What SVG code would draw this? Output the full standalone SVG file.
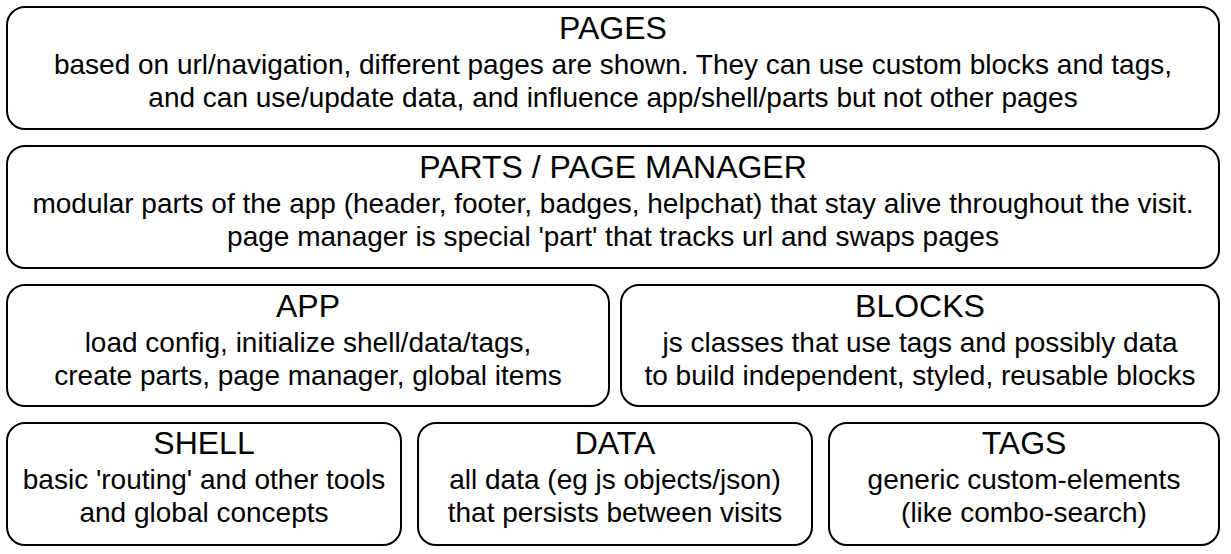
<svg xmlns="http://www.w3.org/2000/svg" width="1231" height="554" viewBox="0 0 1231 554">
  <style>
    .box { fill: #ffffff; stroke: #000000; stroke-width: 2; }
    .title { font-family: "Liberation Sans", Arial, sans-serif; font-size: 32px; fill: #000000; text-anchor: middle; }
    .body { font-family: "Liberation Sans", Arial, sans-serif; font-size: 28px; fill: #000000; text-anchor: middle; }
  </style>
  <rect width="1231" height="554" fill="#ffffff"/>

  <!-- top layer -->
  <g id="pages">
    <rect class="box" x="7" y="7" width="1212" height="122" rx="18" ry="18"/>
    <text class="title" x="613" y="39">PAGES</text>
    <text class="body" x="613" y="74">based on url/navigation, different pages are shown. They can use custom blocks and tags,</text>
    <text class="body" x="613" y="107">and can use/update data, and influence app/shell/parts but not other pages</text>
  </g>

  <g id="parts">
    <rect class="box" x="7" y="146" width="1212" height="122" rx="18" ry="18"/>
    <text class="title" x="613" y="178">PARTS / PAGE MANAGER</text>
    <text class="body" x="613" y="213">modular parts of the app (header, footer, badges, helpchat) that stay alive throughout the visit.</text>
    <text class="body" x="613" y="246">page manager is special 'part' that tracks url and swaps pages</text>
  </g>

  <!-- middle layer -->
  <g id="app">
    <rect class="box" x="7" y="285" width="602" height="121" rx="18" ry="18"/>
    <text class="title" x="308" y="317">APP</text>
    <text class="body" x="308" y="352">load config, initialize shell/data/tags,</text>
    <text class="body" x="308" y="385">create parts, page manager, global items</text>
  </g>

  <g id="blocks">
    <rect class="box" x="621" y="285" width="598" height="121" rx="18" ry="18"/>
    <text class="title" x="920" y="317">BLOCKS</text>
    <text class="body" x="920" y="352">js classes that use tags and possibly data</text>
    <text class="body" x="920" y="385">to build independent, styled, reusable blocks</text>
  </g>

  <!-- base layer -->
  <g id="shell">
    <rect class="box" x="7" y="423" width="394" height="122" rx="18" ry="18"/>
    <text class="title" x="204" y="454">SHELL</text>
    <text class="body" x="204" y="489">basic 'routing' and other tools</text>
    <text class="body" x="204" y="522">and global concepts</text>
  </g>

  <g id="data">
    <rect class="box" x="418" y="423" width="394" height="122" rx="18" ry="18"/>
    <text class="title" x="615" y="454">DATA</text>
    <text class="body" x="615" y="489">all data (eg js objects/json)</text>
    <text class="body" x="615" y="522">that persists between visits</text>
  </g>

  <g id="tags">
    <rect class="box" x="829" y="423" width="390" height="122" rx="18" ry="18"/>
    <text class="title" x="1024" y="454">TAGS</text>
    <text class="body" x="1024" y="489">generic custom-elements</text>
    <text class="body" x="1024" y="522">(like combo-search)</text>
  </g>

  <g id="connectors"></g>
</svg>
